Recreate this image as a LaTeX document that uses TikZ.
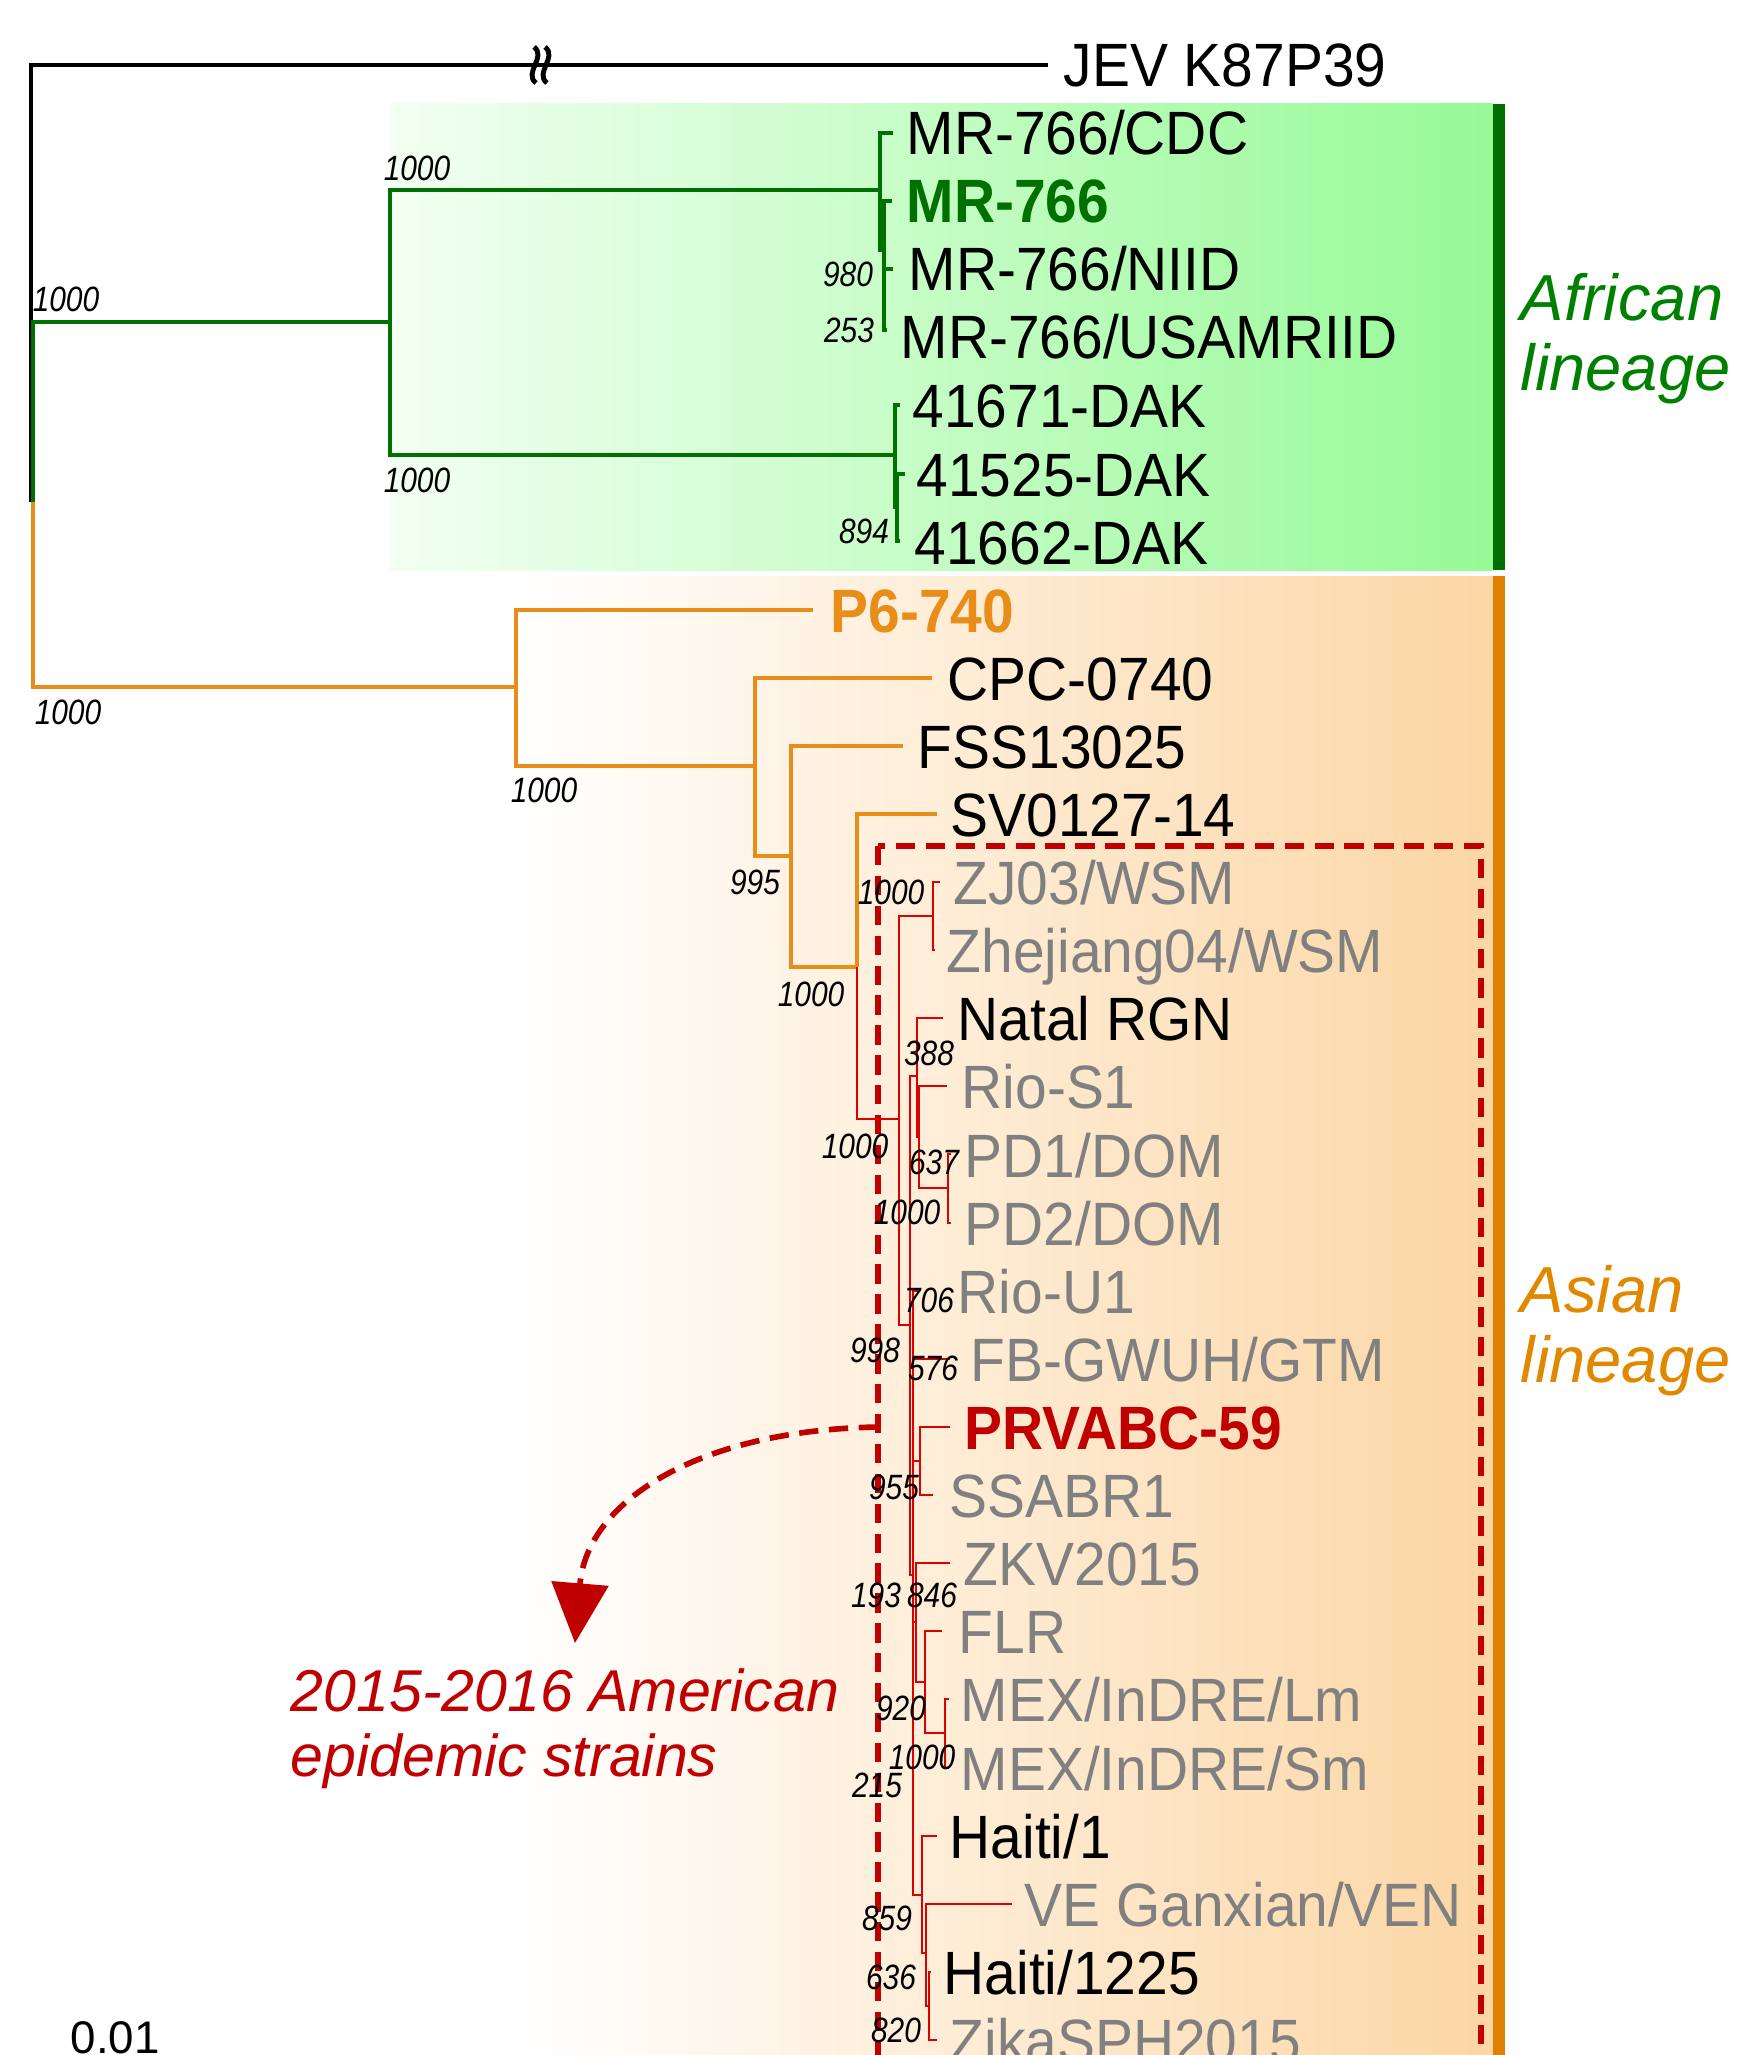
\documentclass[tikz,border=0pt]{standalone}
\usepackage{fontspec}
\setmainfont{Liberation Sans}
\newfontfamily\tipfont[FakeStretch=0.93]{Liberation Sans}
\newfontfamily\bsfont[FakeStretch=0.85]{Liberation Sans}
\usetikzlibrary{arrows.meta}

\definecolor{afgreen}{RGB}{0,112,0}
\definecolor{lngreen}{RGB}{0,128,0}
\definecolor{asorange}{RGB}{232,142,24}
\definecolor{lnorange}{RGB}{225,135,0}
\definecolor{barorange}{RGB}{224,128,0}
\definecolor{amred}{RGB}{220,0,0}
\definecolor{epired}{RGB}{192,0,0}
\definecolor{tipgray}{RGB}{128,128,128}
\definecolor{greenlo}{RGB}{242,255,242}
\definecolor{greenhi}{RGB}{150,250,150}
\definecolor{orangehi}{RGB}{252,214,164}

\tikzset{
    tip/.style={anchor=base west, inner sep=0pt, font=\tipfont\fontsize{17.4}{20}\selectfont},
    boot/.style={inner sep=0pt, font=\bsfont\itshape\fontsize{10}{12}\selectfont},
    lineage/.style={anchor=base west, inner sep=0pt, font=\itshape\fontsize{18.5}{22}\selectfont},
    blk/.style={draw=black, line width=1pt},
    gbr/.style={draw=afgreen, line width=0.9pt},
    obr/.style={draw=asorange, line width=0.9pt},
    rbr/.style={draw=amred, line width=0.7pt},
    epi/.style={draw=epired, line width=1.6pt, dash pattern=on 5.5pt off 3pt}
}

\begin{document}
\begin{tikzpicture}[x=0.01cm, y=-0.01cm]
    \useasboundingbox (0,0) rectangle (1737,2055);
    \clip (0,0) rectangle (1737,2055);

    % Lineage boxes
    \shade[left color=greenlo, right color=greenhi] (390,104) rectangle (1493,570);
    \shade[left color=white, right color=orangehi] (515,576) rectangle (1493,2055);
    \fill[afgreen] (1493,104) rectangle (1505,570);
    \fill[barorange] (1493,576) rectangle (1505,2055);

    % Epidemic box
    \draw[epi] (878,846) rectangle (1481,2100);

    % Tree nodes
    \foreach \n/\x/\y in {root/31/502, zika/33/502, afr/390/322, mrA/880/190, mrB/884/250,
        dakA/895/455, dakB/897/507, asn/516/687, asA/755/766, asB/791/856, asC/857/967,
        amr/899/1119, zj/933/916, rA/910/1325, nat/917/1076, rio/919/1137, pd/948/1188,
        rB/913/1575, prv/920/1461, zkv/916/1622, flr/925/1682, mex/945/1733,
        hti/922/1895, hB/926/1953, hC/929/2006}
        \coordinate (\n) at (\x,\y);

    % Branch tips
    \foreach \n/\x/\y in {t0/1048/65, t1/893/133, t2/892/201, t3/893/269, t4/887/330,
        t5/900/405, t6/905/474, t7/900/541, t8/813/610, t9/932/678, t10/903/746,
        t11/937/814, t12/940/882, t13/935/950, t14/943/1018, t15/947/1086,
        t16/951/1154, t17/951/1223, t18/918/1291, t19/950/1359, t20/950/1427,
        t21/933/1495, t22/950/1563, t23/942/1631, t24/949/1699, t25/949/1768,
        t26/937/1836, t27/1012/1904, t28/931/1972, t29/937/2040}
        \coordinate (\n) at (\x,\y);

    % Outgroup
    \draw[blk] (root) |- (t0);
    \foreach \dx in {0,11}
        \draw[line width=1.4pt] (534+\dx,47) .. controls (547+\dx,57) and (523+\dx,73) .. (536+\dx,83);

    % African branches
    \foreach \p/\c in {zika/afr, afr/mrA, afr/dakA, mrA/t1, mrA/mrB, mrB/t2, mrB/t3, mrB/t4,
        dakA/t5, dakA/dakB, dakB/t6, dakB/t7}
        \draw[gbr] (\p) |- (\c);

    % Asian branches
    \foreach \p/\c in {zika/asn, asn/t8, asn/asA, asA/t9, asA/asB, asB/t10, asB/asC, asC/t11}
        \draw[obr] (\p) |- (\c);

    % American epidemic branches
    \foreach \p/\c in {asC/amr, amr/zj, amr/rA, zj/t12, zj/t13, rA/nat, rA/rB, nat/t14, nat/rio,
        rio/t15, rio/pd, pd/t16, pd/t17, rB/t18, rB/t19, rB/prv, rB/zkv, rB/hti,
        prv/t20, prv/t21, zkv/t22, zkv/flr, flr/t23, flr/mex, mex/t24, mex/t25,
        hti/t26, hti/hB, hB/t27, hB/hC, hC/t28, hC/t29}
        \draw[rbr] (\p) |- (\c);

    % Bootstrap values
    \foreach \bx/\by/\bv [count=\i] in {66/299/1000, 417/168/1000, 417/480/1000, 848/274/980,
        849/330/253, 864/531/894, 68/712/1000, 544/790/1000, 755/882/995, 811/994/1000,
        891/892/1000, 929/1053/388, 855/1146/1000, 934/1162/637, 907/1212/1000,
        929/1300/706, 875/1350/998, 933/1368/576, 894/1487/955, 876/1595/193,
        932/1595/846, 901/1708/920, 922/1757/1000, 877/1785/215, 887/1918/859,
        891/1977/636, 896/2030/820}
        \node[boot] (bs\i) at (\bx,\by) {\bv};

    % Strain labels
    \node[tip] (jev) at (1063,87) {JEV K87P39};
    \node[tip] (mrcdc) at (906,155) {MR-766/CDC};
    \node[tip, afgreen, font=\tipfont\bfseries\fontsize{17.4}{20}\selectfont] (mr) at (906,223) {MR-766};
    \node[tip] (mrniid) at (908,291) {MR-766/NIID};
    \node[tip] (mrusa) at (900,359) {MR-766/USAMRIID};
    \node[tip] (dak1) at (912,427) {41671-DAK};
    \node[tip] (dak2) at (916,496) {41525-DAK};
    \node[tip] (dak3) at (914,564) {41662-DAK};
    \node[tip, asorange, font=\tipfont\bfseries\fontsize{17.4}{20}\selectfont] (psix) at (830,632) {P6-740};
    \node[tip] (cpc) at (947,700) {CPC-0740};
    \node[tip] (fss) at (917,768) {FSS13025};
    \node[tip] (sv) at (950,836) {SV0127-14};
    \node[tip, tipgray] (zjw) at (953,904) {ZJ03/WSM};
    \node[tip, tipgray] (zhe) at (946,972) {Zhejiang04/WSM};
    \node[tip] (natal) at (957,1040) {Natal RGN};
    \node[tip, tipgray] (rios) at (961,1108) {Rio-S1};
    \node[tip, tipgray] (pdone) at (964,1177) {PD1/DOM};
    \node[tip, tipgray] (pdtwo) at (964,1245) {PD2/DOM};
    \node[tip, tipgray] (riou) at (957,1313) {Rio-U1};
    \node[tip, tipgray] (fbg) at (970,1381) {FB-GWUH/GTM};
    \node[tip, epired, font=\tipfont\bfseries\fontsize{17.4}{20}\selectfont] (prvabc) at (964,1449) {PRVABC-59};
    \node[tip, tipgray] (ssabr) at (949,1517) {SSABR1};
    \node[tip, tipgray] (zkvl) at (963,1585) {ZKV2015};
    \node[tip, tipgray] (flrl) at (958,1653) {FLR};
    \node[tip, tipgray] (mexl) at (960,1721) {MEX/InDRE/Lm};
    \node[tip, tipgray] (mexs) at (960,1790) {MEX/InDRE/Sm};
    \node[tip] (haione) at (949,1858) {Haiti/1};
    \node[tip, tipgray] (vegan) at (1024,1926) {VE Ganxian/VEN};
    \node[tip] (haitwo) at (943,1994) {Haiti/1225};
    \node[tip, tipgray] (zsph) at (949,2062) {ZikaSPH2015};

    % Lineage names
    \node[lineage, lngreen] (afone) at (1520,321) {African};
    \node[lineage, lngreen] (aftwo) at (1520,391) {lineage};
    \node[lineage, lnorange] (asone) at (1520,1312) {Asian};
    \node[lineage, lnorange] (astwo) at (1520,1382) {lineage};

    % Epidemic strains
    \coordinate (arrstart) at (878,1427);
    \coordinate (arrtip) at (575,1643);
    \draw[epi, -{Triangle[length=17pt, width=16pt]}] (arrstart) .. controls (700,1430) and (587,1500) .. (arrtip);
    \node[lineage, epired, font=\itshape\fontsize{16.8}{20}\selectfont] (amone) at (290,1711) {2015-2016 American};
    \node[lineage, epired, font=\itshape\fontsize{16.8}{20}\selectfont] (amtwo) at (290,1776) {epidemic strains};

    % Scale
    \node[anchor=base west, inner sep=0pt, font=\fontsize{13}{15}\selectfont] (scale) at (70,2053) {0.01};
\end{tikzpicture}
\end{document}
